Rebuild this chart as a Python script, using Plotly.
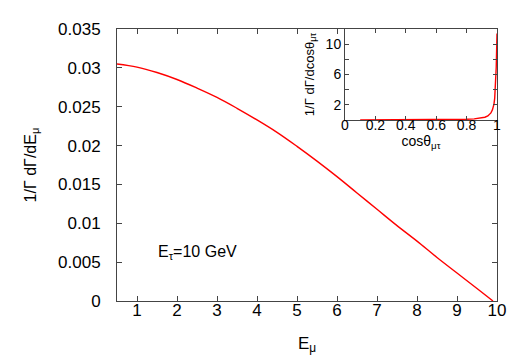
import plotly.graph_objects as go

# main panel: muon energy spectrum
e_mu = [0.5, 1, 1.5, 2, 2.5, 3, 3.5, 4, 4.5, 5, 5.5, 6, 6.5, 7, 7.5, 8, 8.5, 9, 9.5, 9.9]
dgamma_de = [0.0305, 0.0301, 0.0294, 0.0285, 0.0274, 0.0262, 0.0248, 0.0233, 0.0217, 0.0199,
             0.0180, 0.0160, 0.0139, 0.0118, 0.0097, 0.0077, 0.0056, 0.0036, 0.0016, 0.0]

# inset: angular distribution
cos_theta = [0.1, 0.3, 0.5, 0.7, 0.8, 0.85, 0.88, 0.9, 0.92, 0.94, 0.95, 0.96, 0.97, 0.98,
             0.985, 0.99, 0.995, 1.0]
dgamma_dcos = [0.02, 0.03, 0.04, 0.07, 0.11, 0.16, 0.22, 0.28, 0.38, 0.55, 0.7, 0.95, 1.35, 2.1,
               2.9, 4.3, 7.0, 11.4]

inset_yticks = [2, 4, 6, 8, 10]
inset_yticktext = ["2", "", "6", "", "10"]

FONT = "Liberation Sans, Arial, sans-serif"
FRAME = "#444444"

fig = go.Figure()
fig.add_trace(go.Scatter(x=e_mu, y=dgamma_de, mode="lines", line=dict(color="red", width=1.4, shape="spline"),
                         xaxis="x", yaxis="y", showlegend=False))
fig.add_trace(go.Scatter(x=cos_theta, y=dgamma_dcos, mode="lines", line=dict(color="red", width=1.4),
                         xaxis="x2", yaxis="y2", showlegend=False))

common = dict(showline=True, linecolor=FRAME, linewidth=1, mirror="ticks", ticks="inside",
              tickcolor=FRAME, showgrid=False, zeroline=False, ticklabelposition="outside")

fig.update_layout(
    width=519, height=363,
    margin=dict(l=109, r=30, t=21, b=70),
    paper_bgcolor="white", plot_bgcolor="white",
    font=dict(family=FONT, color="black"),
    xaxis=dict(domain=[0, 1], range=[0.5, 10], dtick=1, tick0=0, ticklen=5, ticklabelstandoff=-6,
               tickfont=dict(family=FONT, size=17, color="black"),
               title=dict(text="E<sub>μ</sub>", font=dict(size=17), standoff=17), **common),
    yaxis=dict(domain=[0, 1], range=[0, 0.035], dtick=0.005, ticklen=5, ticklabelstandoff=12,
               tickfont=dict(family=FONT, size=17, color="black"),
               title=dict(text="1/Γ dΓ/dE<sub>μ</sub>", font=dict(size=16), standoff=17), **common),
    xaxis2=dict(domain=[0.6, 1.0], range=[0, 1], dtick=0.2, ticklen=4, anchor="y2", ticklabelstandoff=-8,
                tickfont=dict(family=FONT, size=14, color="black"),
                title=dict(text="cosθ<sub>μτ</sub>", font=dict(size=14), standoff=1), **common),
    yaxis2=dict(domain=[0.665, 1.0], range=[0, 12], tickvals=inset_yticks, ticktext=inset_yticktext,
                ticklen=4, anchor="x2", tickfont=dict(family=FONT, size=14, color="black"),
                title=dict(text="1/Γ dΓ/dcosθ<sub>μτ</sub>", font=dict(size=13), standoff=8), **common),
    annotations=[dict(x=1.475, y=0.0062, xref="x", yref="y", text="E<sub>τ</sub>=10 GeV",
                      showarrow=False, xanchor="left", yanchor="middle", font=dict(size=16))],
)

fig.write_html("out.html")
